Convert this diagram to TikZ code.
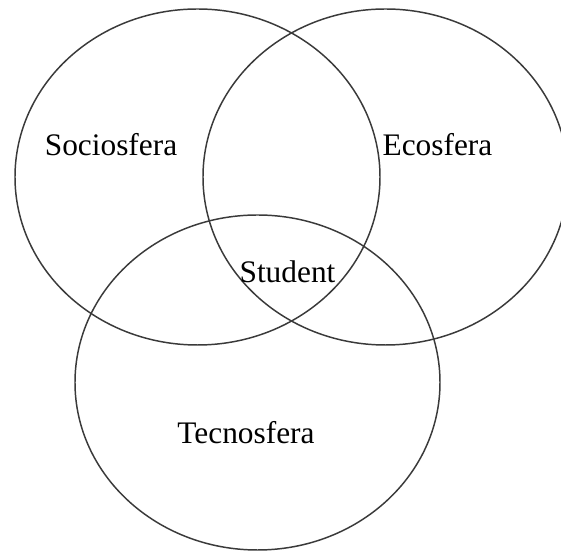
\documentclass[tikz,border=0pt]{standalone}
\usepackage{fontspec}
\setmainfont{Liberation Serif}
\usetikzlibrary{positioning}
\definecolor{ring}{HTML}{3A3A3A}

\begin{document}
\begin{tikzpicture}[x=0.025cm, y=0.025cm, line cap=round,
    sphere/.style={ring, line width=1.05pt},
    tag/.style={anchor=base, font=\fontsize{22.3}{26}\selectfont, text=black, inner sep=0pt}]
  \useasboundingbox (0,0) rectangle (561,552);
  \coordinate (socio) at (197.5,375);
  \coordinate (eco) at (385.5,375);
  \coordinate (tecno) at (257.5,169.5);
  \draw[sphere] (socio) ellipse [x radius=182.5, y radius=168];
  \draw[sphere] (eco) ellipse [x radius=182.5, y radius=168];
  \draw[sphere] (tecno) ellipse [x radius=182.5, y radius=167.5];
  \node[tag] (lsocio) at (111,396) {Sociosfera};
  \node[tag] (leco) at (437.5,396) {Ecosfera};
  \node[tag] (lstud) at (287.5,269) {Student};
  \node[tag] (ltecno) at (246,108) {Tecnosfera};
\end{tikzpicture}
\end{document}
